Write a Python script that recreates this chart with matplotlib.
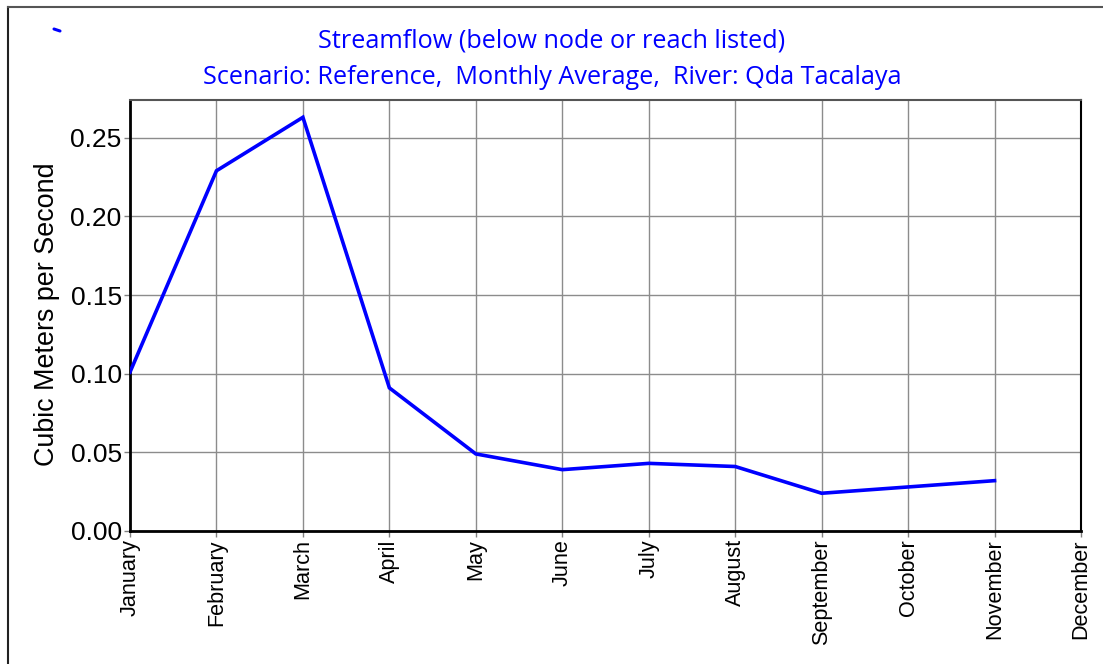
import matplotlib
matplotlib.use("Agg")
import matplotlib.pyplot as plt
from matplotlib.lines import Line2D

months = ["January", "February", "March", "April", "May", "June", "July",
          "August", "September", "October", "November", "December"]
flow = [0.101, 0.229, 0.263, 0.091, 0.049, 0.039, 0.043, 0.041, 0.024, 0.028, 0.032]
yticks = [0.00, 0.05, 0.10, 0.15, 0.20, 0.25]
title1 = "Streamflow (below node or reach listed)"
title2 = "Scenario: Reference,  Monthly Average,  River: Qda Tacalaya"
ylabel = "Cubic Meters per Second"

W, H = 1103, 664
fig = plt.figure(figsize=(W / 100, H / 100), dpi=100)
ax = fig.add_axes([130 / W, 1 - 531 / H, (1081 - 130) / W, (531 - 100) / H])

x = list(range(len(flow)))
ax.plot(x, flow, color="#0000FF", lw=2.6, solid_joinstyle="miter", zorder=3)

ax.set_xlim(0, len(months) - 1)
ax.set_ylim(0, 0.274)
ax.set_xticks(range(len(months)))
ax.set_xticklabels(months, rotation=90, fontsize=15.6, family="Liberation Sans")
ax.set_yticks(yticks)
ax.set_yticklabels([f"{v:.2f}" for v in yticks], fontsize=19, family="Liberation Sans")
ax.tick_params(axis="both", direction="out", length=4, width=1, color="#808080", pad=2)
ax.grid(True, color="#8c8c8c", lw=1)
ax.set_axisbelow(True)
for s in ["left", "bottom"]:
    ax.spines[s].set_linewidth(2)
    ax.spines[s].set_color("black")
ax.spines["top"].set_linewidth(1.5)
ax.spines["top"].set_color("#555555")
ax.spines["right"].set_linewidth(1.5)
ax.spines["right"].set_color("black")

fig.text(47 / W, 1 - 314 / H, ylabel, rotation=90, ha="center", va="center",
         fontsize=19.4, family="Liberation Sans")
fig.text(552 / W, 1 - 41 / H, title1, ha="center", va="center", fontsize=18.2,
         color="#0000FF", family="Open Sans")
fig.text(552 / W, 1 - 78 / H, title2, ha="center", va="center", fontsize=18.2,
         color="#0000FF", family="Open Sans")

# outer frame lines (left and top)
fig.add_artist(Line2D([7.5 / W, 7.5 / W], [0, 1 - 7 / H], color="#222222", lw=1.5))
fig.add_artist(Line2D([7.5 / W, 1], [1 - 7 / H, 1 - 7 / H], color="#555555", lw=1.5))
# small blue mark at top-left
fig.add_artist(Line2D([54 / W, 60 / W], [1 - 29 / H, 1 - 31 / H], color="#0000FF", lw=2.2,
                      solid_capstyle="round"))

fig.savefig("out.png", dpi=100)
